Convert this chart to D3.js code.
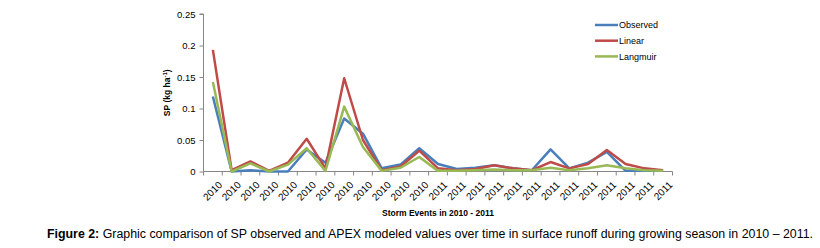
<!DOCTYPE html>
<html><head><meta charset="utf-8">
<script src="https://cdn.jsdelivr.net/npm/d3@7"></script>
<style>body{margin:0;background:#fff}svg{display:block}</style>
</head><body>
<svg id="c" width="820" height="248"></svg>
<script>
const years = ["2010","2010","2010","2010","2010","2010","2010","2010","2010","2010","2010","2010",
  "2011","2011","2011","2011","2011","2011","2011","2011","2011","2011","2011","2011","2011"];
const observed = [0.119,0,0.002,0,0,0.035,0.014,0.084,0.060,0.005,0.011,0.037,0.012,0.004,0.006,0.010,0.005,0.002,0.035,0.005,0.014,0.031,0.001,0.001,0.001];
const linear   = [0.193,0.002,0.016,0.001,0.014,0.052,0.005,0.148,0.050,0.002,0.008,0.033,0.005,0.002,0.004,0.010,0.005,0.002,0.015,0.005,0.012,0.034,0.012,0.005,0.002];
const langmuir = [0.142,0,0.013,0,0.011,0.037,0.001,0.103,0.039,0.001,0.006,0.023,0.001,0.001,0.002,0.003,0.002,0.002,0.006,0.002,0.005,0.010,0.005,0.002,0.001];
const yTicks = [0,0.05,0.1,0.15,0.2,0.25];
const seriesNames = ["Observed","Linear","Langmuir"];
const colors = ["#4a7ebb","#be4b48","#98b954"];
const seriesData = [observed, linear, langmuir];

(function(){
const svg = d3.select("#c");
const mLeft = 203.5, mRight = 672.5, mTop = 14, mBottom = 171.5;
const x = d3.scaleBand().domain(d3.range(years.length)).range([mLeft, mRight]);
const y = d3.scaleLinear().domain([0,0.25]).range([mBottom, mTop]);
const axisColor = "#868686";
const font = "'Liberation Sans', Arial, sans-serif";

// y axis
const ya = svg.append("g").attr("transform",`translate(${mLeft},0)`)
  .call(d3.axisLeft(y).tickValues(yTicks).tickSize(4).tickPadding(4).tickFormat(d=>String(+d.toFixed(2))));
ya.select(".domain").attr("stroke",axisColor).attr("d",`M-4,${y(0.25)}H0V${mBottom}`);
ya.selectAll(".tick line").attr("stroke",axisColor);
ya.selectAll(".tick text").attr("font-family",font).attr("font-size","9.5px").attr("fill","#000");

// x axis with ticks at category boundaries
const xa = svg.append("g").attr("transform",`translate(0,${mBottom})`);
xa.append("line").attr("x1",mLeft).attr("x2",mRight).attr("stroke",axisColor);
xa.selectAll("line.t").data(d3.range(years.length+1)).join("line").attr("class","t")
  .attr("x1",i=>mLeft+i*x.bandwidth()).attr("x2",i=>mLeft+i*x.bandwidth())
  .attr("y1",0).attr("y2",4).attr("stroke",axisColor);
xa.selectAll("text").data(years).join("text")
  .attr("transform",(d,i)=>`translate(${x(i)+x.bandwidth()/2+10},${14}) rotate(-45)`)
  .attr("text-anchor","end").attr("font-family",font).attr("font-size","10px").text(d=>d);

// lines
const line = d3.line().x((d,i)=>x(i)+x.bandwidth()/2).y(d=>y(d));
seriesData.forEach((s,k)=>{
  svg.append("path").datum(s).attr("d",line).attr("fill","none")
    .attr("stroke",colors[k]).attr("stroke-width",2.5).attr("stroke-linejoin","round");
});

// legend
seriesNames.forEach((n,k)=>{
  const ly = 25 + k*15.7;
  svg.append("line").attr("x1",595).attr("x2",618).attr("y1",ly).attr("y2",ly)
    .attr("stroke",colors[k]).attr("stroke-width",2.5);
  svg.append("text").attr("x",619).attr("y",ly+3.3).attr("font-family",font)
    .attr("font-size","9px").text(n);
});

// axis titles
svg.append("text").attr("transform",`translate(170,${(mTop+mBottom)/2}) rotate(-90)`)
  .attr("text-anchor","middle").attr("font-family",font).attr("font-size","8.5px").attr("font-weight","bold")
  .html('SP (kg ha<tspan dy="-3" font-size="6px">-1</tspan><tspan dy="3">)</tspan>');
svg.append("text").attr("x",(mLeft+mRight)/2).attr("y",216).attr("text-anchor","middle")
  .attr("font-family",font).attr("font-size","8.5px").attr("font-weight","bold")
  .text("Storm Events in 2010 - 2011");

// caption
const cap = svg.append("text").attr("x",47).attr("y",238)
  .attr("textLength",766).attr("lengthAdjust","spacingAndGlyphs")
  .attr("font-family",font).attr("font-size","12.5px");
cap.append("tspan").attr("font-weight","bold").text("Figure 2:");
cap.append("tspan").text(" Graphic comparison of SP observed and APEX modeled values over time in surface runoff during growing season in 2010 \u2013 2011.");
})();
</script>
</body></html>
